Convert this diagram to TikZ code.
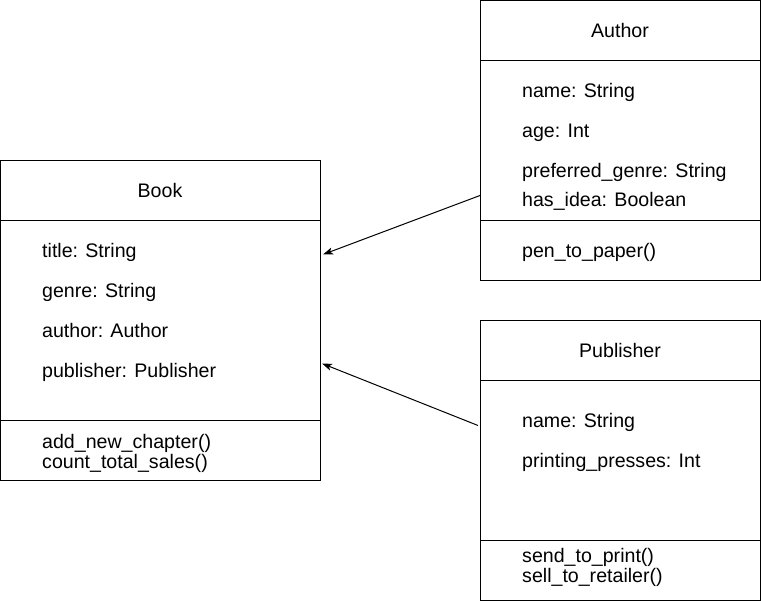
\documentclass[tikz,border=0pt]{standalone}
\usepackage{fontspec}
\setmainfont{Liberation Sans}
\usetikzlibrary{arrows.meta}
\begin{document}
\begin{tikzpicture}[x=1pt,y=-1pt,
  box/.style={draw=black,line width=1pt,fill=white},
  txt/.style={anchor=base west,inner sep=0pt,font=\fontsize{19.6}{23}\selectfont},
  ttl/.style={anchor=base,inner sep=0pt,font=\fontsize{19.6}{23}\selectfont},
  conn/.style={draw=black,line width=1pt,-{Stealth[length=10pt,width=7pt,inset=2.5pt]}}]
\useasboundingbox (0,0) rectangle (761,601);
% Book
\draw[box] (0.5,160.5) rectangle (320.5,480.5);
\draw[line width=1pt] (0.5,220.5) -- (320.5,220.5);
\draw[line width=1pt] (0.5,420.5) -- (320.5,420.5);
\node[ttl] (bookt) at (160,198) {Book};
\node[txt] (b1) at (42,258) {title: String};
\node[txt] (b2) at (42,298) {genre: String};
\node[txt] (b3) at (42,338) {author: Author};
\node[txt] (b4) at (42,378) {publisher: Publisher};
\node[txt] (b5) at (42,448.5) {add\_new\_chapter()};
\node[txt] (b6) at (42,469) {count\_total\_sales()};
% Author
\draw[box] (480.5,0.5) rectangle (760.5,280.5);
\draw[line width=1pt] (480.5,60.5) -- (760.5,60.5);
\draw[line width=1pt] (480.5,220.5) -- (760.5,220.5);
\node[ttl] (autht) at (620,38) {Author};
\node[txt] (a1) at (522,98) {name: String};
\node[txt] (a2) at (522,138) {age: Int};
\node[txt] (a3) at (522,178) {preferred\_genre: String};
\node[txt] (a4) at (522,207) {has\_idea: Boolean};
\node[txt] (a5) at (522,258) {pen\_to\_paper()};
% Publisher
\draw[box] (480.5,320.5) rectangle (760.5,600.5);
\draw[line width=1pt] (480.5,380.5) -- (760.5,380.5);
\draw[line width=1pt] (480.5,540.5) -- (760.5,540.5);
\node[ttl] (pubt) at (620,358) {Publisher};
\node[txt] (p1) at (522,428) {name: String};
\node[txt] (p2) at (522,468) {printing\_presses: Int};
\node[txt] (p3) at (522,562) {send\_to\_print()};
\node[txt] (p4) at (522,582.5) {sell\_to\_retailer()};
% connectors
\coordinate (s1) at (480,195.5);
\coordinate (e1) at (323,254.5);
\coordinate (s2) at (478,425.5);
\coordinate (e2) at (322,363.5);
\draw[conn] (s1) -- (e1);
\draw[conn] (s2) -- (e2);
\end{tikzpicture}
\end{document}
